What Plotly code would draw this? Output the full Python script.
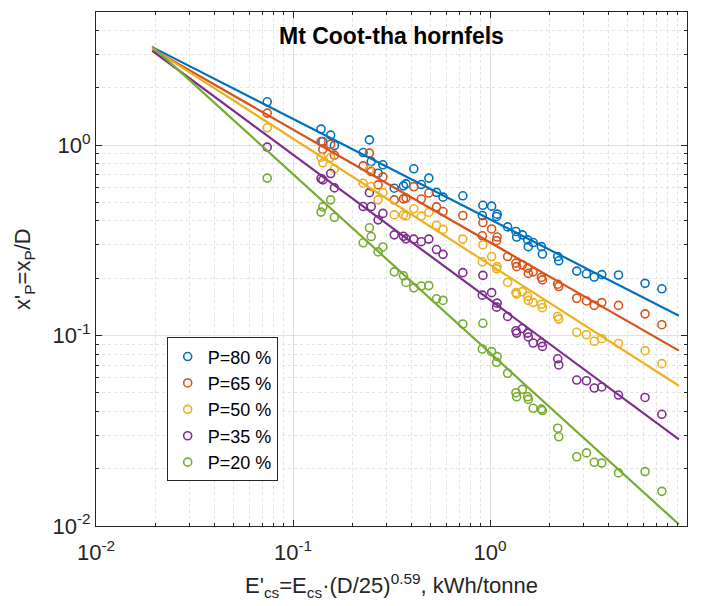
import plotly.graph_objects as go

# Experiment abscissae E'cs (kWh/tonne), shared by all P series
e_cs = [0.0740, 0.1388, 0.1417, 0.1553, 0.1622, 0.2270, 0.2443, 0.2495, 0.2704, 0.2860,
        0.3266, 0.3637, 0.3745, 0.4103, 0.4480, 0.4891, 0.5352, 0.5775, 0.7280, 0.9203,
        0.9140, 1.019, 1.087, 1.080, 1.229, 1.354, 1.365, 1.459, 1.553, 1.565,
        1.656, 1.823, 1.845, 2.207, 2.233, 2.756, 3.087, 3.382, 3.693, 4.490,
        6.124, 7.453]

p80 = [1.689, 1.214, 1.044, 1.129, 0.995, 0.914, 1.066, 0.820, 0.712, 0.788,
       0.594, 0.611, 0.626, 0.751, 0.621, 0.671, 0.565, 0.533, 0.542, 0.483,
       0.427, 0.478, 0.434, 0.422, 0.372, 0.352, 0.329, 0.338, 0.318, 0.293,
       0.308, 0.293, 0.268, 0.260, 0.247, 0.218, 0.211, 0.203, 0.209, 0.208,
       0.188, 0.176]
p65 = [1.473, 1.044, 0.950, 1.010, 0.886, 0.778, 0.908, 0.727, 0.618, 0.681,
       0.516, 0.522, 0.527, 0.604, 0.521, 0.560, 0.474, 0.448, 0.427, 0.392,
       0.334, 0.363, 0.329, 0.315, 0.260, 0.240, 0.230, 0.235, 0.226, 0.212,
       0.216, 0.202, 0.196, 0.186, 0.181, 0.157, 0.152, 0.144, 0.149, 0.144,
       0.130, 0.114]
p50 = [1.233, 0.863, 0.807, 0.861, 0.751, 0.631, 0.742, 0.606, 0.516, 0.563,
       0.430, 0.430, 0.425, 0.463, 0.424, 0.444, 0.379, 0.361, 0.321, 0.299,
       0.244, 0.260, 0.230, 0.224, 0.190, 0.168, 0.165, 0.170, 0.161, 0.153,
       0.149, 0.146, 0.140, 0.126, 0.122, 0.104, 0.101, 0.0933, 0.0963, 0.0909,
       0.0833, 0.0712]
p35 = [0.976, 0.668, 0.657, 0.709, 0.596, 0.476, 0.563, 0.476, 0.405, 0.438,
       0.338, 0.332, 0.322, 0.321, 0.311, 0.321, 0.283, 0.267, 0.214, 0.207,
       0.163, 0.168, 0.148, 0.141, 0.126, 0.106, 0.103, 0.109, 0.103, 0.0983,
       0.0914, 0.0918, 0.0877, 0.0755, 0.0701, 0.0584, 0.0579, 0.0530, 0.0537, 0.0487,
       0.0473, 0.0386]
p20 = [0.671, 0.445, 0.474, 0.516, 0.418, 0.307, 0.368, 0.331, 0.275, 0.292,
       0.216, 0.206, 0.190, 0.178, 0.182, 0.183, 0.156, 0.153, 0.115, 0.116,
       0.0850, 0.0823, 0.0775, 0.0724, 0.0634, 0.0501, 0.0477, 0.0522, 0.0477, 0.0462,
       0.0415, 0.0411, 0.0404, 0.0326, 0.0294, 0.0231, 0.0242, 0.0216, 0.0214, 0.0190,
       0.0193, 0.0152]

# Power-law fit lines (end points)
fit_x = [0.0193, 9.1]
fit80 = [3.27, 0.1272]
fit65 = [3.20, 0.0833]
fit50 = [3.22, 0.0545]
fit35 = [3.13, 0.0285]
fit20 = [3.30, 0.0102]

labels = ["P=80 %", "P=65 %", "P=50 %", "P=35 %", "P=20 %"]
colors = ["#0072BD", "#D95319", "#EDB120", "#7E2F8E", "#77AC30"]
series = [p80, p65, p50, p35, p20]
fits = [fit80, fit65, fit50, fit35, fit20]

FONT = "Liberation Sans, Arial, sans-serif"
fig = go.Figure()

for lab, col, ys in zip(labels, colors, series):
    fig.add_trace(go.Scatter(
        x=e_cs, y=ys, mode="markers", name=lab,
        marker=dict(symbol="circle-open", size=8, color=col, line=dict(width=1.6, color=col)),
    ))
for col, fy in zip(colors, fits):
    fig.add_trace(go.Scatter(
        x=fit_x, y=fy, mode="lines", showlegend=False,
        line=dict(color=col, width=2.2), hoverinfo="skip",
    ))

minor_x = [k * 10 ** e for e in (-2, -1, 0) for k in range(2, 10)]
minor_y = [k * 10 ** e for e in (-2, -1, 0) for k in range(2, 10) if k * 10 ** e < 5.01]

axis_common = dict(
    type="log", showline=True, linecolor="#262626", linewidth=1, mirror="ticks",
    ticks="inside", ticklen=6, tickcolor="#262626", tickwidth=1,
    showgrid=True, gridcolor="#e0e0e0", gridwidth=1.2, zeroline=False,
    tickfont=dict(family=FONT, size=22, color="#262626"),
)

fig.update_xaxes(
    **axis_common, range=[-2, 1], ticklabelstandoff=7,
    tickvals=[0.01, 0.1, 1, 10],
    ticktext=["10<sup>-2</sup>", "10<sup>-1</sup>", "10<sup>0</sup>", "10<sup>1</sup>"],
    minor=dict(tickvals=minor_x, ticks="inside", ticklen=3, tickcolor="#262626",
               showgrid=True, gridcolor="#e3e3e3", griddash="dot", gridwidth=1),
)
fig.update_yaxes(
    **axis_common, range=[-2, 0.699],
    tickvals=[0.01, 0.1, 1],
    ticktext=["10<sup>-2</sup>", "10<sup>-1</sup>", "10<sup>0</sup>"],
    minor=dict(tickvals=minor_y, ticks="inside", ticklen=3, tickcolor="#262626",
               showgrid=True, gridcolor="#e3e3e3", griddash="dot", gridwidth=1),
)

fig.add_annotation(text="<b>Mt Coot-tha hornfels</b>", xref="paper", yref="paper",
                   x=0.5, y=0.954, xanchor="center", yanchor="middle", showarrow=False,
                   font=dict(family=FONT, size=23, color="black"))
fig.add_annotation(text="x'<sub>P</sub>=x<sub>P</sub>/D", xref="paper", yref="paper",
                   x=-0.122, y=0.5, xanchor="center", yanchor="middle",
                   textangle=-90, showarrow=False,
                   font=dict(family=FONT, size=22, color="#262626"))
fig.add_annotation(text="E'<sub>cs</sub>=E<sub>cs</sub>·(D/25)<sup>0.59</sup>, kWh/tonne",
                   xref="paper", yref="paper", x=0.5, y=-0.115,
                   xanchor="center", yanchor="middle", showarrow=False,
                   font=dict(family=FONT, size=22, color="#262626"))

fig.update_layout(
    width=701, height=606,
    margin=dict(l=96, r=14, t=12, b=80),
    paper_bgcolor="white", plot_bgcolor="white",
    showlegend=True,
    legend=dict(x=0.1196, y=0.367, xanchor="left", yanchor="top",
                bgcolor="white", bordercolor="#262626", borderwidth=1,
                font=dict(family=FONT, size=18, color="black"),
                tracegroupgap=0, itemwidth=30),
)

fig.write_html("out.html")
